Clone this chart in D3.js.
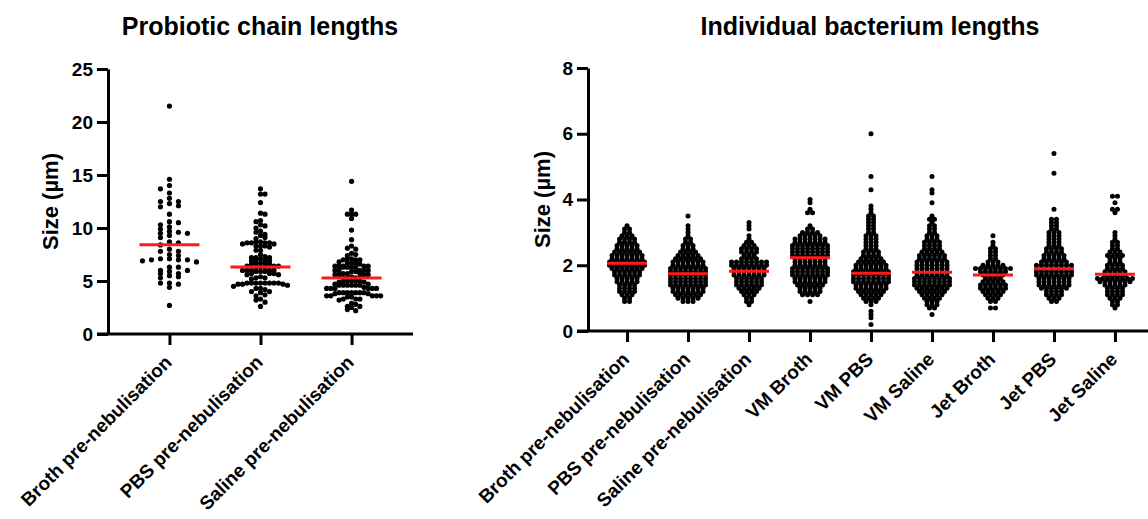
<!DOCTYPE html>
<html><head><meta charset="utf-8">
<script src="https://cdn.jsdelivr.net/npm/d3@7/dist/d3.min.js"></script>
<style>
body{margin:0;background:#fff}
svg text{font-family:"Liberation Sans",Arial,sans-serif;font-weight:bold;fill:#000}
</style></head><body>
<svg id="fig" width="1148" height="519"></svg>
<script>
// ---- left panel: chain lengths (um), one value per dot
const chainCats = ["Broth pre-nebulisation", "PBS pre-nebulisation", "Saline pre-nebulisation"];
const chainBroth = [21.5, 14.6, 13.7, 14.0, 13.3, 12.5, 12.8, 12.3, 12.5, 12.0, 12.1, 11.3, 10.5, 10.6, 10.3,
  9.9, 10.1, 9.3, 9.6, 9.7, 9.5, 9.5, 9.1, 8.6, 8.7, 8.4, 8.0, 7.8, 7.8, 7.4, 7.5, 7.1, 7.1, 7.0, 6.8, 6.9,
  7.0, 7.0, 6.3, 6.3, 5.7, 6.0, 6.0, 5.9, 5.7, 5.5, 5.4, 4.8, 5.3, 4.8, 4.7, 4.4, 2.7];
const chainPbs = [13.7, 13.2, 13.2, 12.4, 11.3, 11.4, 10.7, 10.6, 10.3, 10.2, 10.0, 9.7, 9.6, 9.3, 9.4, 9.0, 9.1,
  8.6, 8.7, 8.6, 8.5, 8.6, 8.7, 8.6, 8.5, 8.3, 8.3, 8.2, 8.3, 7.9, 7.9, 7.5,
  7.2, 7.2, 7.1, 7.2, 7.3, 6.9, 6.9, 7.0, 6.9, 6.7, 6.6, 6.7, 6.6, 6.7,
  6.4, 6.3, 6.4, 6.3, 6.4, 6.3, 6.0, 5.9, 6.0, 5.9, 6.0, 6.0, 5.9, 6.0,
  5.7, 5.6, 5.7, 5.6, 5.7, 5.3, 5.3, 5.4, 5.2,
  4.8, 4.8, 4.7, 4.8, 4.8, 4.7, 4.8, 4.8, 4.7, 4.8, 4.8, 4.6, 4.5,
  4.3, 4.3, 4.2, 4.0, 3.9, 4.0, 3.7, 3.6, 3.3, 3.2, 3.0, 2.6];
const chainSaline = [14.4, 11.7, 11.3, 11.3, 11.3, 10.9, 9.8, 8.9, 8.0, 8.3, 8.1, 7.6, 7.5, 7.4,
  7.0, 7.1, 7.0, 7.1, 7.0, 6.7, 6.7, 6.8, 6.7, 6.6,
  6.4, 6.3, 6.4, 6.3, 6.4, 6.3, 6.4, 6.3, 6.4, 6.0, 5.9, 6.0, 6.0, 5.9, 6.0, 6.0,
  5.7, 5.6, 5.7, 5.6, 5.7, 5.6, 5.6, 5.3, 5.3, 5.4, 5.3, 5.3,
  5.0, 4.9, 5.0, 4.9, 5.0, 4.9, 5.0, 4.6, 4.6, 4.7, 4.6, 4.6, 4.7, 4.6, 4.6,
  4.3, 4.3, 4.4, 4.3, 4.3, 4.3, 4.3, 3.9, 3.9, 3.9, 3.8, 3.9, 3.9, 3.9, 3.8, 3.9,
  3.6, 3.6, 3.5, 3.6, 3.6, 3.5, 3.6, 3.3, 3.3, 3.2, 3.3, 2.9, 2.8, 2.6, 2.5, 2.6, 2.3, 2.2];
const chainMedians = [8.43, 6.32, 5.28];
const chainTicks = [0, 5, 10, 15, 20, 25];

// ---- right panel: bacterium lengths (um), read as [value, dots in that row]
const bactCats = ["Broth pre-nebulisation", "PBS pre-nebulisation", "Saline pre-nebulisation",
  "VM Broth", "VM PBS", "VM Saline", "Jet Broth", "Jet PBS", "Jet Saline"];
const bactBrothPre = [[3.2,1],[3.1,2],[3.0,2],[2.9,3],[2.8,4],[2.7,4],[2.6,5],[2.5,5],[2.4,6],[2.3,7],[2.2,7],
  [2.1,8],[2.0,8],[1.9,7],[1.8,6],[1.7,6],[1.6,5],[1.5,5],[1.4,4],[1.3,4],[1.2,4],[1.1,3],[1.0,2],[0.9,2]];
const bactPbsPre = [[3.5,1],[3.2,1],[3.1,1],[3.0,1],[2.9,1],[2.8,2],[2.7,2],[2.6,3],[2.5,3],[2.4,4],[2.3,5],
  [2.2,6],[2.1,7],[2.0,7],[1.9,8],[1.8,8],[1.7,8],[1.6,8],[1.5,8],[1.4,8],[1.3,7],[1.2,7],[1.1,6],[1.0,5],[0.9,3]];
const bactSalinePre = [[3.3,1],[3.2,1],[3.1,1],[2.9,1],[2.8,1],[2.7,2],[2.6,3],[2.5,4],[2.4,4],[2.3,3],[2.2,4],
  [2.1,8],[2.0,8],[1.9,7],[1.8,7],[1.7,7],[1.6,6],[1.5,6],[1.4,6],[1.3,5],[1.2,4],[1.1,3],[1.0,2],[0.9,2],[0.8,1]];
const bactVmBroth = [[4.0,1],[3.9,1],[3.7,1],[3.6,2],[3.2,1],[3.1,2],[3.0,4],[2.9,5],[2.8,7],[2.7,7],[2.6,8],
  [2.5,8],[2.4,8],[2.3,8],[2.2,7],[2.1,7],[2.0,7],[1.9,8],[1.8,8],[1.7,8],[1.6,7],[1.5,7],[1.4,6],[1.3,5],
  [1.2,5],[1.1,4],[0.9,1]];
const bactVmPbs = [[6.0,1],[4.7,1],[4.3,1],[3.8,1],[3.7,1],[3.6,1],[3.5,2],[3.4,2],[3.3,2],[3.2,2],[3.1,2],
  [3.0,2],[2.9,3],[2.8,3],[2.7,3],[2.6,3],[2.5,3],[2.4,4],[2.3,4],[2.2,5],[2.1,6],[2.0,7],[1.9,7],[1.8,8],
  [1.7,8],[1.6,8],[1.5,8],[1.4,7],[1.3,7],[1.2,6],[1.1,5],[1.0,4],[0.9,3],[0.8,1],[0.6,1],[0.5,1],[0.4,1],[0.2,1]];
const bactVmSaline = [[4.7,1],[4.3,1],[4.2,1],[3.9,1],[3.5,1],[3.4,2],[3.3,1],[3.2,2],[3.1,2],[3.0,2],[2.9,3],
  [2.8,3],[2.7,4],[2.6,4],[2.5,4],[2.4,5],[2.3,6],[2.2,6],[2.1,7],[2.0,7],[1.9,7],[1.8,7],[1.7,7],[1.6,8],
  [1.5,8],[1.4,8],[1.3,7],[1.2,6],[1.1,5],[1.0,4],[0.9,3],[0.8,3],[0.7,2],[0.5,1]];
const bactJetBroth = [[2.9,1],[2.7,1],[2.6,1],[2.5,2],[2.4,2],[2.3,2],[2.2,2],[2.1,3],[2.0,5],[1.9,8],[1.8,6],
  [1.7,5],[1.6,4],[1.5,5],[1.4,6],[1.3,6],[1.2,5],[1.1,4],[1.0,3],[0.9,2],[0.7,2]];
const bactJetPbs = [[5.4,1],[4.8,1],[3.7,1],[3.4,2],[3.3,2],[3.2,2],[3.1,2],[3.0,3],[2.9,3],[2.8,3],[2.7,3],
  [2.6,3],[2.5,4],[2.4,4],[2.3,5],[2.2,5],[2.1,6],[2.0,8],[1.9,8],[1.8,8],[1.7,8],[1.6,7],[1.5,7],[1.4,7],
  [1.3,6],[1.2,4],[1.1,4],[1.0,3],[0.9,2]];
const bactJetSaline = [[4.1,2],[3.9,1],[3.7,2],[3.6,1],[3.0,1],[2.9,1],[2.8,1],[2.7,2],[2.6,2],[2.5,2],[2.4,3],
  [2.3,4],[2.2,3],[2.1,3],[2.0,4],[1.9,4],[1.8,5],[1.7,5],[1.6,8],[1.5,7],[1.4,5],[1.3,4],[1.2,4],[1.1,4],
  [1.0,3],[0.9,2],[0.8,2],[0.7,1]];
const bactMedians = [2.06, 1.74, 1.82, 2.23, 1.76, 1.79, 1.70, 1.89, 1.73];
const bactTicks = [0, 2, 4, 6, 8];

const svg = d3.select("#fig");

// prism style scatter: close values share a row, row dots go 0, -s, +s, -2s ...
// (start side flips every row), spacing shrinks when the widest row would not fit
function swarm(values, y, band, maxStep, maxWidth) {
  const sorted = values.slice().sort((a, b) => b - a);
  const rowList = [];
  sorted.forEach(v => {
    const last = rowList[rowList.length - 1];
    if (last && y(v) - y(last[0]) <= band) last.push(v);
    else rowList.push([v]);
  });
  const kMax = d3.max(rowList, r => r.length);
  const s = kMax > 1 ? Math.min(maxStep, maxWidth / (kMax - 1)) : maxStep;
  return rowList.flatMap((r, ri) => r.map((v, i) => ({
    x: (ri % 2 ? 1 : -1) * (i % 2 ? 1 : -1) * Math.ceil(i / 2) * s,
    y: y(v)
  })));
}

// rows already counted off the picture: dots side by side, centred
function rows(bins, y, s) {
  return bins.flatMap(([v, k]) => d3.range(k).map(i => ({ x: (i - (k - 1) / 2) * s, y: y(v) })));
}

function panel(o) {
  const g = svg.append("g");
  const x = d3.scalePoint().domain(o.cats).range(o.xRange).padding(o.pad);
  const y = d3.scaleLinear().domain([0, o.yMax]).range(o.yRange);

  o.groups.forEach((grp, i) => {
    const pts = o.rowStep ? rows(grp, y, o.rowStep) : swarm(grp, y, 4, 9.5, 54);
    g.append("g").selectAll("circle").data(pts).join("circle")
      .attr("cx", p => x(o.cats[i]) + p.x).attr("cy", p => p.y)
      .attr("r", o.r).attr("fill", "#000");
  });

  g.append("g").selectAll("line").data(o.medians).join("line")
    .attr("x1", (m, i) => x(o.cats[i]) - o.lineW / 2)
    .attr("x2", (m, i) => x(o.cats[i]) + o.lineW / 2)
    .attr("y1", m => y(m)).attr("y2", m => y(m))
    .attr("stroke", "#ff1a1a").attr("stroke-width", 3);

  const yAx = g.append("g").attr("transform", `translate(${o.xRange[0]},0)`)
    .call(d3.axisLeft(y).tickValues(o.ticks).tickSize(11).tickSizeOuter(0).tickPadding(4));
  yAx.selectAll("text").style("font-size", "19px");

  const xAx = g.append("g").attr("transform", `translate(0,${o.yRange[0]})`)
    .call(d3.axisBottom(x).tickSize(11).tickSizeOuter(0));
  xAx.select(".domain").remove();
  xAx.selectAll("text").remove();
  xAx.append("line").attr("x1", o.xRange[0] - 11).attr("x2", o.xEnd).attr("y1", 0).attr("y2", 0);

  yAx.selectAll(".domain, .tick line").attr("stroke-width", 3).attr("stroke", "#000");
  xAx.selectAll("line").attr("stroke-width", 3).attr("stroke", "#000");

  g.append("g").selectAll("text").data(o.cats).join("text")
    .attr("transform", c => `translate(${x(c) - 6},${o.yRange[0] + 20}) rotate(-45)`)
    .attr("text-anchor", "end").attr("dy", "0.7em")
    .style("font-size", "19px").text(c => c);

  g.append("text").attr("x", o.titleX).attr("y", 35).attr("text-anchor", "middle")
    .style("font-size", "25px").text(o.title);

  g.append("text").attr("transform", `translate(${o.labelX},${(o.yRange[0] + o.yRange[1]) / 2}) rotate(-90)`)
    .attr("text-anchor", "middle").attr("dy", "0.35em")
    .style("font-size", "22px").text("Size (µm)");
}

panel({
  cats: chainCats, groups: [chainBroth, chainPbs, chainSaline], medians: chainMedians,
  ticks: chainTicks, yMax: 25, xRange: [108, 413], xEnd: 413, pad: 0.675, yRange: [334, 69],
  r: 2.6, lineW: 60, title: "Probiotic chain lengths", titleX: 260, labelX: 50
});
panel({
  cats: bactCats,
  groups: [bactBrothPre, bactPbsPre, bactSalinePre, bactVmBroth, bactVmPbs, bactVmSaline,
    bactJetBroth, bactJetPbs, bactJetSaline],
  medians: bactMedians, ticks: bactTicks, yMax: 8, xRange: [588, 1154], xEnd: 1148, pad: 0.64,
  yRange: [331, 68], r: 2.5, rowStep: 5, lineW: 40, title: "Individual bacterium lengths",
  titleX: 870, labelX: 542
});
</script>
</body></html>
